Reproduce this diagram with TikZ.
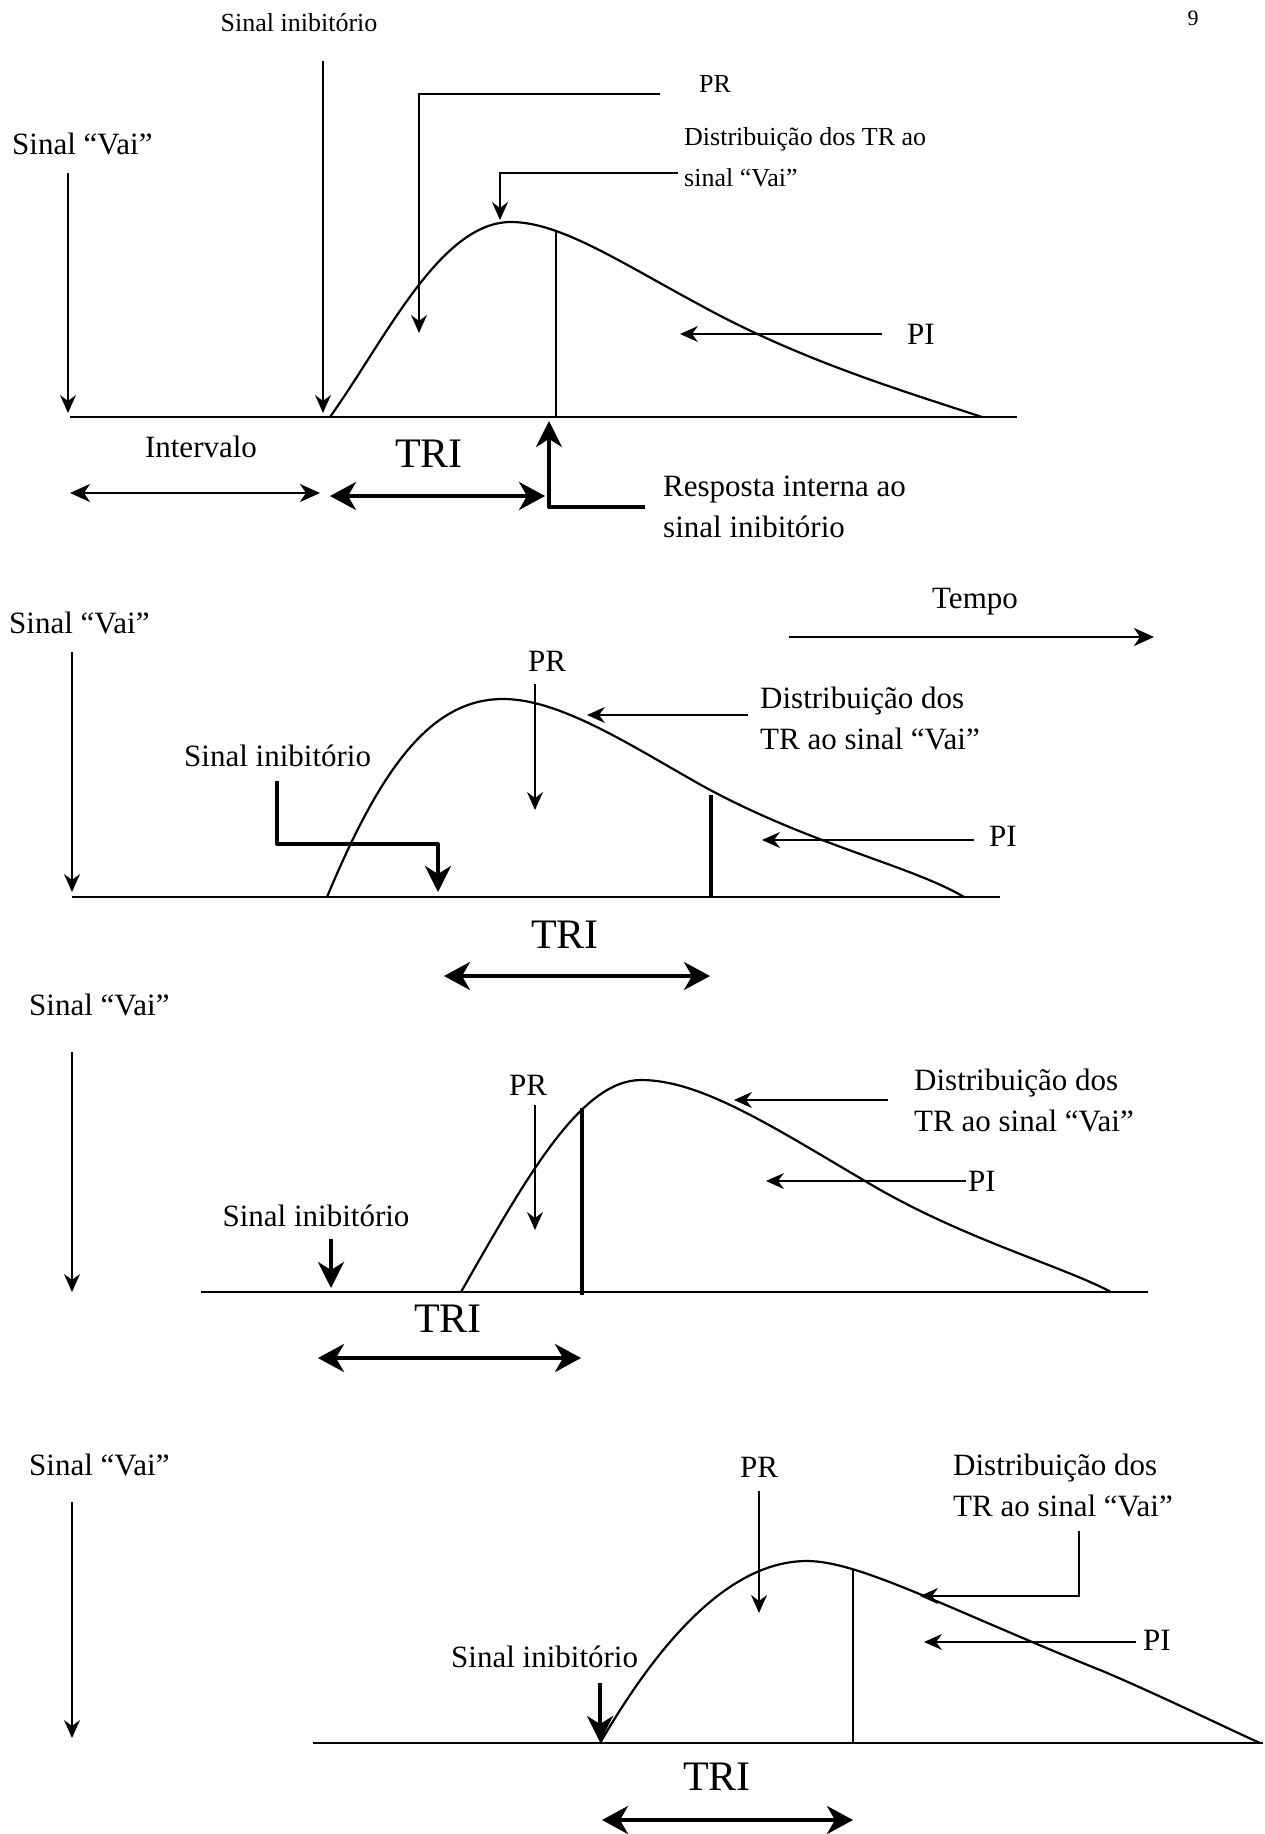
\documentclass[tikz,border=0pt]{standalone}
\usepackage{fontspec}
\setmainfont{Liberation Serif}
\usetikzlibrary{arrows.meta}

\begin{document}
\begin{tikzpicture}[x=1pt,y=-1pt,
  txt/.style={inner sep=0pt,font=\fontsize{31}{41}\selectfont},
  smalltxt/.style={inner sep=0pt,font=\fontsize{26}{41}\selectfont},
  bigtxt/.style={inner sep=0pt,font=\fontsize{42}{50}\selectfont},
  fine/.style={line width=1.3pt,-{Stealth[length=18pt,width=16pt,inset=6pt]}},
  heavy/.style={line width=4pt,line join=round,-{Stealth[length=26pt,width=26pt,inset=8pt]}},
  fineboth/.style={line width=1.6pt,{Stealth[length=20pt,width=18pt,inset=6pt]}-{Stealth[length=20pt,width=18pt,inset=6pt]}},
  heavyboth/.style={line width=4pt,{Stealth[length=26pt,width=28pt,inset=8pt]}-{Stealth[length=26pt,width=28pt,inset=8pt]}},
  base/.style={line width=2pt},
  curve/.style={line width=2.2pt,line join=round},
  cut/.style={line width=1.6pt}]
\useasboundingbox (0,0) rectangle (1265,1834);

% first panel
\node[font=\fontsize{22}{26}\selectfont,inner sep=0pt] (pagenum) at (1193,18) {9};
\node[smalltxt] (inib1) at (299,23) {Sinal inibitório};
\node[txt,anchor=west] (vai1) at (12,144) {Sinal “Vai”};
\node[smalltxt] (pr1) at (715,84) {PR};
\node[smalltxt,anchor=west,align=left] (dist1) at (684,157) {Distribuição dos TR ao\\sinal “Vai”};
\node[txt] (pi1) at (921,334) {PI};
\node[txt] (interv) at (201,447) {Intervalo};
\node[bigtxt] (tri1) at (429,454) {TRI};
\node[txt,anchor=west,align=left] (resp) at (663,507) {Resposta interna ao\\sinal inibitório};

\coordinate (vai1a) at (68,173);  \coordinate (vai1b) at (68,413);
\coordinate (inib1a) at (323,61); \coordinate (inib1b) at (323,413);
\coordinate (base1a) at (70,417); \coordinate (base1b) at (1017,417);
\coordinate (pr1a) at (660,94);   \coordinate (pr1b) at (419,94);   \coordinate (pr1c) at (419,333);
\coordinate (dist1a) at (678,173); \coordinate (dist1b) at (500,173); \coordinate (dist1c) at (500,220);
\coordinate (pi1a) at (882,334);  \coordinate (pi1b) at (680,334);
\coordinate (cut1a) at (556,231); \coordinate (cut1b) at (556,417);
\coordinate (int1a) at (70,493);  \coordinate (int1b) at (320,493);
\coordinate (tri1a) at (330,496); \coordinate (tri1b) at (545,496);
\coordinate (resp1a) at (645,507); \coordinate (resp1b) at (549,507); \coordinate (resp1c) at (549,421);

\draw[fine] (vai1a) -- (vai1b);
\draw[fine] (inib1a) -- (inib1b);
\draw[base] (base1a) -- (base1b);
\draw[curve] (330,417) .. controls (385,340) and (440,222) .. (511,222)
      .. controls (560,222) and (620,262) .. (700,305)
      .. controls (800,360) and (900,390) .. (982,417);
\draw[cut] (cut1a) -- (cut1b);
\draw[fine] (pr1a) -- (pr1b) -- (pr1c);
\draw[fine] (dist1a) -- (dist1b) -- (dist1c);
\draw[fine] (pi1a) -- (pi1b);
\draw[fineboth] (int1a) -- (int1b);
\draw[heavyboth] (tri1a) -- (tri1b);
\draw[heavy] (resp1a) -- (resp1b) -- (resp1c);

% second panel
\node[txt,anchor=west] (vai2) at (9,623) {Sinal “Vai”};
\node[txt] (tempo) at (975,602) {Tempo};
\node[txt] (pr2) at (547,661) {PR};
\node[txt,anchor=west,align=left] (dist2) at (760,718) {Distribuição dos\\TR ao sinal “Vai”};
\node[txt,anchor=west] (inib2) at (184,756) {Sinal inibitório};
\node[txt] (pi2) at (1003,836) {PI};
\node[bigtxt] (tri2) at (565,935) {TRI};

\coordinate (tempoa) at (789,637); \coordinate (tempob) at (1154,637);
\coordinate (vai2a) at (72,652);  \coordinate (vai2b) at (72,892);
\coordinate (base2a) at (72,897); \coordinate (base2b) at (1000,897);
\coordinate (cut2a) at (711,795); \coordinate (cut2b) at (711,897);
\coordinate (pr2a) at (535,684);  \coordinate (pr2b) at (535,810);
\coordinate (dist2a) at (748,715); \coordinate (dist2b) at (587,715);
\coordinate (inib2a) at (277,781); \coordinate (inib2b) at (277,844); \coordinate (inib2c) at (438,844); \coordinate (inib2d) at (438,892);
\coordinate (pi2a) at (974,840);  \coordinate (pi2b) at (762,840);
\coordinate (tri2a) at (444,976); \coordinate (tri2b) at (710,976);

\draw[line width=2.4pt,-{Stealth[length=20pt,width=18pt,inset=6pt]}] (tempoa) -- (tempob);
\draw[fine] (vai2a) -- (vai2b);
\draw[base] (base2a) -- (base2b);
\draw[curve] (327,897) .. controls (380,770) and (430,699) .. (503,699)
      .. controls (560,699) and (630,745) .. (701,785)
      .. controls (810,845) and (910,865) .. (964,897);
\draw[line width=3.2pt] (cut2a) -- (cut2b);
\draw[fine] (pr2a) -- (pr2b);
\draw[fine,line width=1.6pt] (dist2a) -- (dist2b);
\draw[heavy] (inib2a) -- (inib2b) -- (inib2c) -- (inib2d);
\draw[fine,line width=1.6pt] (pi2a) -- (pi2b);
\draw[heavyboth] (tri2a) -- (tri2b);

% third panel
\node[txt,anchor=west] (vai3) at (29,1005) {Sinal “Vai”};
\node[txt] (pr3) at (528,1085) {PR};
\node[txt,anchor=west,align=left] (dist3) at (914,1100) {Distribuição dos\\TR ao sinal “Vai”};
\node[txt,anchor=west] (pi3) at (968,1181) {PI};
\node[txt] (inib3) at (316,1216) {Sinal inibitório};
\node[bigtxt] (tri3) at (448,1319) {TRI};

\coordinate (vai3a) at (72,1052);  \coordinate (vai3b) at (72,1292);
\coordinate (base3a) at (201,1292); \coordinate (base3b) at (1148,1292);
\coordinate (cut3a) at (582,1108); \coordinate (cut3b) at (582,1295);
\coordinate (pr3a) at (535,1105);  \coordinate (pr3b) at (535,1230);
\coordinate (dist3a) at (888,1100); \coordinate (dist3b) at (734,1100);
\coordinate (pi3a) at (966,1181);  \coordinate (pi3b) at (766,1181);
\coordinate (inib3a) at (331,1239); \coordinate (inib3b) at (331,1288);
\coordinate (tri3a) at (318,1358); \coordinate (tri3b) at (581,1358);

\draw[fine] (vai3a) -- (vai3b);
\draw[base] (base3a) -- (base3b);
\draw[curve] (461,1292) .. controls (525,1180) and (580,1080) .. (641,1080)
      .. controls (700,1080) and (770,1125) .. (865,1181)
      .. controls (960,1238) and (1060,1265) .. (1111,1292);
\draw[line width=3.2pt] (cut3a) -- (cut3b);
\draw[fine] (pr3a) -- (pr3b);
\draw[fine,line width=1.6pt] (dist3a) -- (dist3b);
\draw[fine,line width=1.6pt] (pi3a) -- (pi3b);
\draw[heavy] (inib3a) -- (inib3b);
\draw[heavyboth] (tri3a) -- (tri3b);

% fourth panel
\node[txt,anchor=west] (vai4) at (29,1465) {Sinal “Vai”};
\node[txt] (pr4) at (759,1467) {PR};
\node[txt,anchor=west,align=left] (dist4) at (953,1485) {Distribuição dos\\TR ao sinal “Vai”};
\node[txt] (pi4) at (1157,1640) {PI};
\node[txt,anchor=west] (inib4) at (451,1657) {Sinal inibitório};
\node[bigtxt] (tri4) at (717,1777) {TRI};

\coordinate (vai4a) at (72,1502);  \coordinate (vai4b) at (72,1738);
\coordinate (base4a) at (313,1743); \coordinate (base4b) at (1263,1743);
\coordinate (cut4a) at (853,1570); \coordinate (cut4b) at (853,1743);
\coordinate (pr4a) at (759,1491);  \coordinate (pr4b) at (759,1613);
\coordinate (dist4a) at (1079,1531); \coordinate (dist4b) at (1079,1596); \coordinate (dist4c) at (920,1596);
\coordinate (pi4a) at (1136,1642); \coordinate (pi4b) at (924,1642);
\coordinate (inib4a) at (600,1683); \coordinate (inib4b) at (600,1742);
\coordinate (tri4a) at (602,1820); \coordinate (tri4b) at (853,1820);

\draw[fine] (vai4a) -- (vai4b);
\draw[base] (base4a) -- (base4b);
\draw[curve] (600,1743) .. controls (660,1640) and (730,1561) .. (807,1561)
      .. controls (860,1561) and (950,1610) .. (1105,1672)
      .. controls (1170,1700) and (1220,1725) .. (1260,1743);
\draw[cut] (cut4a) -- (cut4b);
\draw[fine] (pr4a) -- (pr4b);
\draw[fine,line width=2pt] (dist4a) -- (dist4b) -- (dist4c);
\draw[fine,line width=1.6pt] (pi4a) -- (pi4b);
\draw[heavy] (inib4a) -- (inib4b);
\draw[heavyboth] (tri4a) -- (tri4b);
\end{tikzpicture}
\end{document}
